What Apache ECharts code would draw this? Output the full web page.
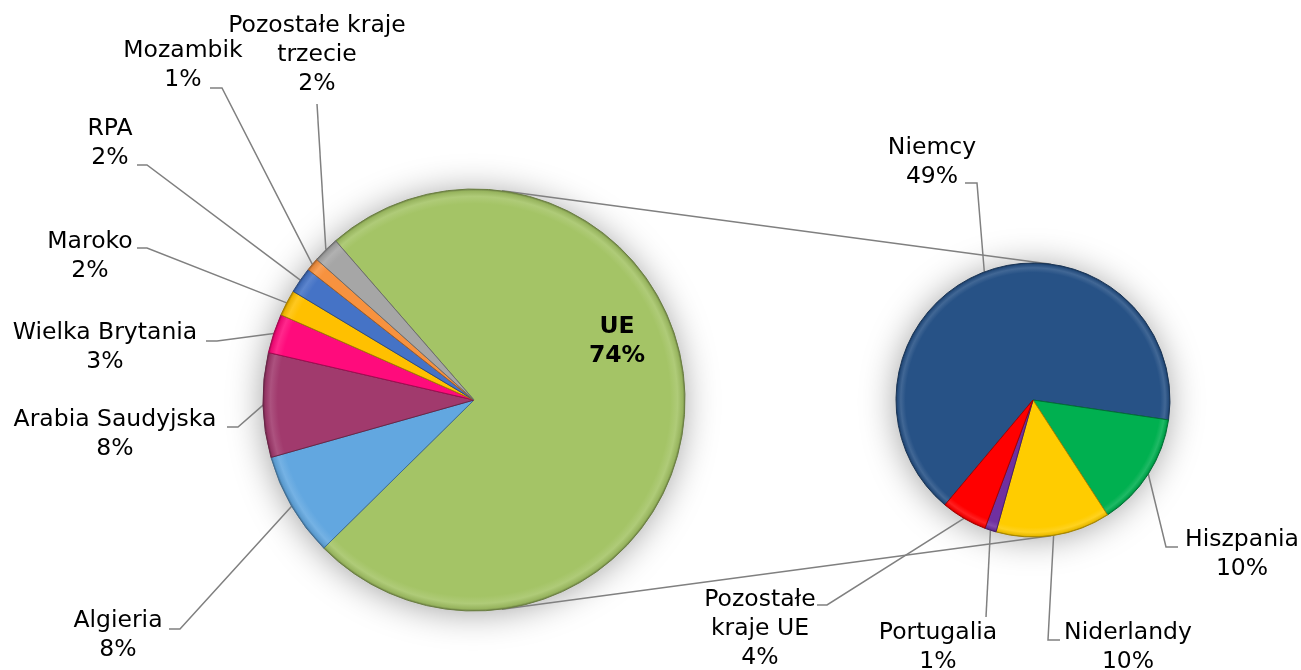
<!DOCTYPE html>
<html>
<head>
<meta charset="utf-8">
<script src="https://cdn.jsdelivr.net/npm/echarts@6/dist/echarts.min.js"></script>
<style>
html,body{margin:0;padding:0;background:#fff}
#frame{width:1301px;height:670px}
</style>
</head>
<body>
<div id="frame"></div>
<script>
// import structure: share of total (%)
const leftNames = ['UE', 'Algieria', 'Arabia Saudyjska', 'Wielka Brytania', 'Maroko', 'RPA', 'Mozambik', 'Pozostałe kraje trzecie'];
const leftValues = [74, 8, 8, 3, 2, 2, 1, 2];
const rightNames = ['Niemcy', 'Hiszpania', 'Niderlandy', 'Portugalia', 'Pozostałe kraje UE'];
const rightValues = [49, 10, 10, 1, 4];
const totals = ['3,4 mln ton', '2,5 mln ton'];

const leftColors = ['#a4c466', '#62a7e0', '#a13a6d', '#ff0b7c', '#ffc000', '#4573c6', '#f7923f', '#a6a6a6'];
const rightColors = ['#275286', '#00b050', '#ffcc00', '#7030a0', '#ff0000'];

const FONT = 'DejaVu Sans';
const L = {c: [474, 400], r: 211, start: 131};
const R = {c: [1033, 400], r: 137, start: 230};

// label placement: centre of text block, elbow and end of leader line, words on first line
const leftLabelPos = [
  {x: 617, y: 341},
  {x: 118, y: 635, e: [180, 629], t: [169, 629]},
  {x: 115, y: 434, e: [238, 427], t: [227, 427]},
  {x: 105, y: 347, e: [217, 341], t: [206, 341]},
  {x: 90, y: 256, e: [147, 248], t: [137, 248]},
  {x: 110, y: 143, e: [147, 165], t: [137, 165]},
  {x: 183, y: 65, e: [222, 88], t: [210, 88]},
  {x: 317, y: 55, e: [317, 104], t: [317, 104], br: 2}
];
const rightLabelPos = [
  {x: 932, y: 162, e: [977, 183], t: [965, 183]},
  {x: 1242, y: 554, e: [1166, 547], t: [1178, 547]},
  {x: 1128, y: 647, e: [1048, 640], t: [1060, 640]},
  {x: 938, y: 647, e: [986, 617], t: [986, 617]},
  {x: 760, y: 629, e: [827, 605], t: [817, 605], br: 1}
];

function shade(hex, k) {
  const n = parseInt(hex.slice(1), 16);
  let rgb = [(n >> 16) & 255, (n >> 8) & 255, n & 255];
  rgb = rgb.map(v => Math.round(k >= 0 ? v + (255 - v) * k : v * (1 + k)));
  return 'rgb(' + rgb.join(',') + ')';
}

function bevel(c, pie) {
  return {
    type: 'radial', x: pie.c[0], y: pie.c[1], r: pie.r, global: true,
    colorStops: [
      {offset: 0, color: c},
      {offset: 0.93, color: c},
      {offset: 0.965, color: shade(c, 0.12)},
      {offset: 0.99, color: shade(c, -0.08)},
      {offset: 1, color: shade(c, -0.35)}
    ]
  };
}

function wrapName(name, br) {
  if (!br) return name;
  const w = name.split(' ');
  return w.slice(0, br).join(' ') + '\n' + w.slice(br).join(' ');
}

function buildData(names, values, colors, pie, pos) {
  return names.map((n, i) => ({
    name: n,
    value: values[i],
    itemStyle: {color: bevel(colors[i], pie), borderColor: shade(colors[i], -0.35), borderWidth: 1},
    label: {formatter: wrapName(n, pos[i].br) + '\n' + values[i] + '%'}
  }));
}

const leftData = buildData(leftNames, leftValues, leftColors, L, leftLabelPos);
leftData[0].label.fontWeight = 'bold';
leftData[0].labelLine = {show: false};
const rightData = buildData(rightNames, rightValues, rightColors, R, rightLabelPos);

function layoutFor(pos) {
  return function (p) {
    const q = pos[p.dataIndex];
    const out = {x: q.x, y: q.y, align: 'center', verticalAlign: 'middle'};
    if (q.e && p.labelLinePoints) {
      out.labelLinePoints = [p.labelLinePoints[0], q.e, q.t];
    }
    return out;
  };
}

function pieSeries(data, pie, pos) {
  return {
    type: 'pie',
    center: pie.c,
    radius: pie.r,
    startAngle: pie.start,
    clockwise: true,
    avoidLabelOverlap: false,
    silent: true,
    data: data,
    label: {
      show: true,
      fontFamily: FONT,
      fontSize: 23.5,
      lineHeight: 29,
      color: '#000',
      align: 'center'
    },
    labelLine: {show: true, lineStyle: {color: '#808080', width: 1.5}},
    labelLayout: layoutFor(pos),
    emphasis: {disabled: true}
  };
}

// connectors: outer tangents between the two pies
const d = R.c[0] - L.c[0];
const ca = (L.r - R.r) / d;
const sa = Math.sqrt(1 - ca * ca);
const connectors = [1, -1].map(s => ({
  type: 'line',
  z: 1,
  shape: {
    x1: L.c[0] + L.r * ca, y1: L.c[1] - s * L.r * sa,
    x2: R.c[0] + R.r * ca, y2: R.c[1] - s * R.r * sa
  },
  style: {stroke: '#808080', lineWidth: 1.5}
}));

function glow(pie) {
  return {
    type: 'circle', z: 0,
    shape: {cx: pie.c[0], cy: pie.c[1], r: pie.r - 2},
    style: {fill: '#fff', shadowBlur: 36, shadowColor: 'rgba(0,0,0,0.4)', shadowOffsetX: -1, shadowOffsetY: 2}
  };
}

function box(cx, cy, w, h, text) {
  return {
    type: 'group', z: 100, x: cx - w / 2, y: cy - h / 2,
    children: [
      {type: 'rect', shape: {x: 0, y: 0, width: w, height: h},
        style: {fill: {type: 'linear', x: 0, y: 0, x2: 1, y2: 1, colorStops: [{offset: 0, color: '#d0d0d0'}, {offset: 1, color: '#707070'}]}}},
      {type: 'rect', shape: {x: 4, y: 4, width: w - 8, height: h - 8},
        style: {fill: {type: 'linear', x: 0, y: 0, x2: 0, y2: 1, colorStops: [{offset: 0, color: '#ffffff'}, {offset: 1, color: '#f0f0f0'}]}}},
      {type: 'text', x: w / 2, y: h / 2 + 1,
        style: {text: text, fontFamily: FONT, fontSize: 26, fontWeight: 'bold', fill: '#000', align: 'center', verticalAlign: 'middle'}}
    ]
  };
}

const chart = echarts.init(document.getElementById('frame'));
chart.setOption({
  animation: false,
  backgroundColor: '#fff',
  graphic: [
    glow(L), glow(R),
    ...connectors,
    box(504.5, 404.5, 233, 63, totals[0]),
    box(1037, 401, 213, 62, totals[1])
  ],
  series: [
    pieSeries(leftData, L, leftLabelPos),
    pieSeries(rightData, R, rightLabelPos)
  ]
});
</script>
</body>
</html>
